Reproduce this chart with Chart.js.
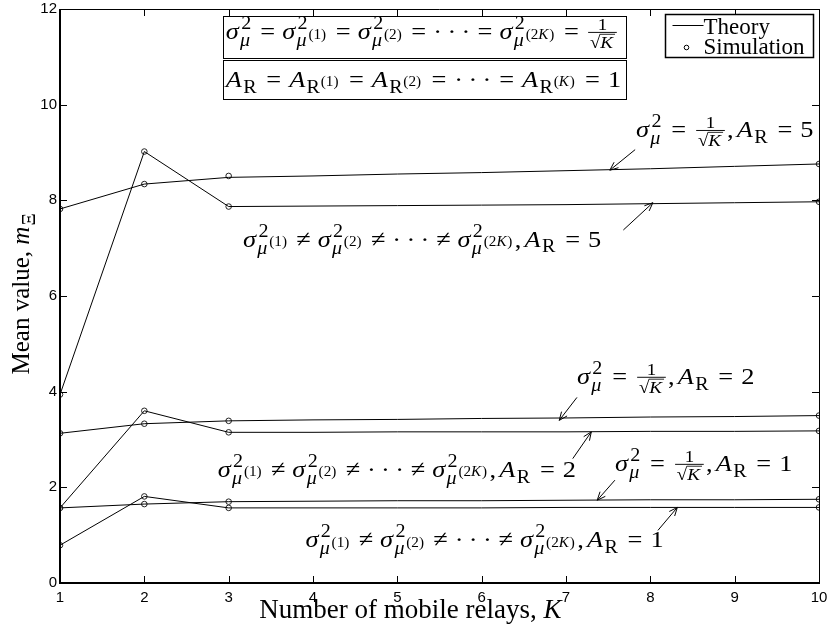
<!DOCTYPE html>
<html>
<head>
<meta charset="UTF-8">
<title>Mean value vs number of mobile relays</title>
<script src="https://cdn.jsdelivr.net/npm/chart.js"></script>
<style>
  html, body { margin: 0; padding: 0; background: #fff; }
  #wrap { width: 827px; height: 633px; }
</style>
</head>
<body>
<div id="wrap"><canvas id="chart" width="827" height="633"></canvas></div>
<script>
// K values: theory evaluated at every K, simulation only at a few
const kTheory = [1, 2, 3, 4, 5, 6, 7, 8, 9, 10];
const kSim = [1, 2, 3, 10];

// theory curves (equal / unequal variances, A_R = 5, 2, 1)
const theoryEqA5   = [7.82, 8.34, 8.48, 8.51, 8.55, 8.58, 8.62, 8.66, 8.71, 8.76];
const theoryNeqA5  = [3.94, 9.02, 7.87, 7.88, 7.89, 7.90, 7.91, 7.93, 7.95, 7.97];
const theoryEqA2   = [3.13, 3.33, 3.39, 3.41, 3.42, 3.44, 3.45, 3.47, 3.48, 3.50];
const theoryNeqA2  = [1.57, 3.60, 3.15, 3.15, 3.16, 3.16, 3.16, 3.17, 3.17, 3.18];
const theoryEqA1   = [1.57, 1.65, 1.70, 1.71, 1.72, 1.72, 1.73, 1.74, 1.74, 1.75];
const theoryNeqA1  = [0.79, 1.81, 1.57, 1.57, 1.57, 1.57, 1.58, 1.58, 1.58, 1.58];

// simulation points
const simEqA5  = [7.82, 8.34, 8.51, 8.76];
const simNeqA5 = [3.94, 9.02, 7.87, 7.97];
const simEqA2  = [3.13, 3.33, 3.39, 3.50];
const simNeqA2 = [1.57, 3.60, 3.15, 3.18];
const simEqA1  = [1.57, 1.65, 1.70, 1.75];
const simNeqA1 = [0.79, 1.81, 1.57, 1.58];

const xTicks = [1, 2, 3, 4, 5, 6, 7, 8, 9, 10];
const yTicks = [0, 2, 4, 6, 8, 10, 12];

// --- tiny math text layout: text, sup/sub, fractions, square roots ---
const I = s => ({ k: 't', s, it: true });
const R = s => ({ k: 't', s, it: false });
const SP = w => ({ k: 'sp', w });
const SS = (base, sup, sub) => ({ k: 'ss', base, sup, sub });
const FR = (num, den) => ({ k: 'fr', num, den });
const SQ = body => ({ k: 'sq', body });

const SERIF = '"Liberation Serif", "DejaVu Serif", serif';
function fnt(size, it) { return (it ? 'italic ' : '') + size + 'px ' + SERIF; }

function lay(ctx, nodes, x, y, size, draw) {
  let w = 0;
  for (const n of nodes) {
    if (n.k === 't') {
      ctx.font = fnt(size, n.it);
      if (draw) ctx.fillText(n.s, x + w, y);
      w += ctx.measureText(n.s).width + (n.it ? size * 0.05 : 0);
    } else if (n.k === 'sp') {
      w += n.w * size;
    } else if (n.k === 'ss') {
      w += lay(ctx, n.base, x + w, y, size, draw);
      const s2 = size * (size > 18 ? 0.76 : 0.7);
      let sw = 0;
      if (n.sup) sw = Math.max(sw, lay(ctx, n.sup, x + w + size * 0.04, y - size * 0.42, s2, draw));
      if (n.sub) sw = Math.max(sw, lay(ctx, n.sub, x + w, y + size * (n.sup ? 0.3 : 0.24), s2, draw));
      w += sw + size * 0.07;
    } else if (n.k === 'fr') {
      const s2 = size * 0.72;
      const nw = lay(ctx, n.num, 0, 0, s2, false);
      const dw = lay(ctx, n.den, 0, 0, s2, false);
      const fw = Math.max(nw, dw) + size * 0.3;
      const bar = y - size * 0.28;
      if (draw) {
        lay(ctx, n.num, x + w + (fw - nw) / 2, bar - size * 0.1, s2, true);
        lay(ctx, n.den, x + w + (fw - dw) / 2, bar + size * 0.64, s2, true);
        ctx.beginPath();
        ctx.lineWidth = 0.9;
        ctx.moveTo(x + w + 2, bar); ctx.lineTo(x + w + fw - 2, bar);
        ctx.stroke();
      }
      w += fw;
    } else if (n.k === 'sq') {
      ctx.font = fnt(size, false);
      const rw = ctx.measureText('\u221A').width;
      if (draw) ctx.fillText('\u221A', x + w, y);
      const bw = lay(ctx, n.body, x + w + rw, y, size, draw);
      if (draw) {
        ctx.beginPath();
        ctx.lineWidth = 0.8;
        ctx.moveTo(x + w + rw - 0.5, y - size * 0.78);
        ctx.lineTo(x + w + rw + bw + 1, y - size * 0.78);
        ctx.stroke();
      }
      w += rw + bw + 1;
    }
  }
  return w;
}

// formulas are set a little wider than the serif face, like TeX output
const FS = 24, SX = 1.1;
function drawMath(ctx, nodes, x, y) {
  ctx.save();
  ctx.translate(x, y);
  ctx.scale(SX, 1);
  lay(ctx, nodes, 0, 0, FS, true);
  ctx.restore();
}

const rel = (op, gap) => [SP(gap), R(op), SP(gap)];
const EQ = rel('=', 0.3);
const EQN = rel('=', 0.27);
const NE = rel('\u2260', 0.26);
const DOTS = R('\u00B7\u2009\u00B7\u2009\u00B7');
const sig = idx => SS([I('\u03C3')], [R('2')], idx ? [SS([I('\u03BC')], idx, null)] : [I('\u03BC')]);
const aR = idx => SS([I('A')], null, idx ? [SS([R('R')], idx, null)] : [R('R')]);
const invSqrtK = FR([R('1')], [SQ([I('K')])]);

const eqLabel = a => [sig(null), ...EQ, invSqrtK, R(','), SP(0.12), aR(null), ...EQ, R(a)];
const neqLabel = a => [sig([R('(1)')]), ...NE, sig([R('(2)')]), ...NE, DOTS, ...NE,
  sig([R('(2'), I('K'), R(')')]), R(','), SP(0.12), aR(null), ...EQ, R(a)];

const boxLine1 = [sig(null), ...EQN, sig([R('(1)')]), ...EQN, sig([R('(2)')]), ...EQN, DOTS, ...EQN,
  sig([R('(2'), I('K'), R(')')]), ...EQN, invSqrtK];
const boxLine2 = [aR(null), ...EQ, aR([R('(1)')]), ...EQ, aR([R('(2)')]), ...EQ, DOTS, ...EQ,
  aR([R('('), I('K'), R(')')]), ...EQ, R('1')];

// labels with arrows, in data units: text start, arrow tail, arrow tip
const notes = [
  { label: eqLabel('5'),  at: [7.83, 9.32], tail: [7.82, 9.06], tip: [7.52, 8.63] },
  { label: neqLabel('5'), at: [3.17, 7.03], tail: [7.68, 7.38], tip: [8.03, 7.95] },
  { label: eqLabel('2'),  at: [7.13, 4.16], tail: [7.13, 3.88], tip: [6.92, 3.40] },
  { label: neqLabel('2'), at: [2.87, 2.22], tail: [7.08, 2.60], tip: [7.30, 3.16] },
  { label: eqLabel('1'),  at: [7.58, 2.34], tail: [7.58, 2.15], tip: [7.37, 1.73] },
  { label: neqLabel('1'), at: [3.91, 0.75], tail: [8.09, 1.10], tip: [8.32, 1.58] }
];

const decor = {
  id: 'decor',
  afterDatasetsDraw(chart) {
    const { ctx, chartArea: a, scales: { x, y } } = chart;
    const px = v => x.getPixelForValue(v), py = v => y.getPixelForValue(v);
    ctx.save();
    ctx.strokeStyle = '#000';
    ctx.fillStyle = '#000';

    // inward tick marks on all four sides
    ctx.lineWidth = 1;
    ctx.beginPath();
    xTicks.forEach(t => {
      const X = Math.round(px(t)) + 0.5;
      ctx.moveTo(X, a.bottom); ctx.lineTo(X, a.bottom - 7);
      ctx.moveTo(X, a.top); ctx.lineTo(X, a.top + 7);
    });
    yTicks.forEach(t => {
      const Y = Math.round(py(t)) + 0.5;
      ctx.moveTo(a.left, Y); ctx.lineTo(a.left + 7, Y);
      ctx.moveTo(a.right, Y); ctx.lineTo(a.right - 7, Y);
    });
    ctx.stroke();

    // axes box: heavier left/bottom
    ctx.beginPath();
    ctx.lineWidth = 1;
    ctx.moveTo(a.left, a.top + 0.5); ctx.lineTo(a.right + 0.5, a.top + 0.5); ctx.lineTo(a.right + 0.5, a.bottom);
    ctx.stroke();
    ctx.beginPath();
    ctx.lineWidth = 2;
    ctx.moveTo(a.left, a.top); ctx.lineTo(a.left, a.bottom); ctx.lineTo(a.right + 1, a.bottom);
    ctx.stroke();

    // annotations with arrows
    ctx.textBaseline = 'alphabetic';
    notes.forEach(n => {
      drawMath(ctx, n.label, px(n.at[0]), py(n.at[1]));
      const x0 = px(n.tail[0]), y0 = py(n.tail[1]), x1 = px(n.tip[0]), y1 = py(n.tip[1]);
      const ang = Math.atan2(y1 - y0, x1 - x0);
      ctx.lineWidth = 1;
      ctx.beginPath();
      ctx.moveTo(x0, y0); ctx.lineTo(x1, y1);
      ctx.moveTo(x1, y1); ctx.lineTo(x1 - 9 * Math.cos(ang - 0.4), y1 - 9 * Math.sin(ang - 0.4));
      ctx.moveTo(x1, y1); ctx.lineTo(x1 - 9 * Math.cos(ang + 0.4), y1 - 9 * Math.sin(ang + 0.4));
      ctx.stroke();
    });

    // boxed condition lines at the top
    const bx0 = px(2.93), bx1 = px(7.71);
    ctx.lineWidth = 1;
    [[11.85, 10.98, boxLine1, 11.37], [10.93, 10.12, boxLine2, 10.36]].forEach(([t, b, line, base]) => {
      const Y0 = Math.round(py(t)) + 0.5, Y1 = Math.round(py(b)) + 0.5;
      ctx.fillStyle = '#fff';
      ctx.fillRect(bx0, Y0, bx1 - bx0, Y1 - Y0);
      ctx.strokeRect(Math.round(bx0) + 0.5, Y0, Math.round(bx1 - bx0), Y1 - Y0);
      ctx.fillStyle = '#000';
      drawMath(ctx, line, bx0 + 3, py(base));
    });

    // legend box
    const lx0 = Math.round(px(8.17)) + 0.5, lx1 = Math.round(px(9.93)) + 0.5;
    const ly0 = Math.round(py(11.9)) + 0.5, ly1 = Math.round(py(10.99)) + 0.5;
    ctx.fillStyle = '#fff';
    ctx.fillRect(lx0, ly0, lx1 - lx0, ly1 - ly0);
    ctx.lineWidth = 1.5;
    ctx.strokeRect(lx0, ly0, lx1 - lx0, ly1 - ly0);
    ctx.fillStyle = '#000';
    ctx.lineWidth = 1;
    ctx.beginPath();
    ctx.moveTo(lx0 + 7, ly0 + 11); ctx.lineTo(lx0 + 38, ly0 + 11);
    ctx.stroke();
    ctx.beginPath();
    ctx.arc(lx0 + 21, ly0 + 33, 2.3, 0, Math.PI * 2);
    ctx.stroke();
    ctx.font = fnt(23, false);
    ctx.fillText('Theory', lx0 + 38, ly0 + 19);
    ctx.fillText('Simulation', lx0 + 38, ly0 + 39);

    // axis titles
    const xt = [R('Number of mobile relays, '), I('K')];
    const xw = lay(ctx, xt, 0, 0, 27, false);
    lay(ctx, xt, 411 - xw / 2, 618, 27, true);

    const yt = [R('Mean value, '), SS([I('m')], null, [R('\u039E')])];
    const yw = lay(ctx, yt, 0, 0, 25, false);
    ctx.translate(29, 293);
    ctx.rotate(-Math.PI / 2);
    lay(ctx, yt, -yw / 2, 0, 25, true);
    ctx.restore();
  }
};

const pts = (xs, ys) => xs.map((k, i) => ({ x: k, y: ys[i] }));
const theoryDs = ys => ({
  data: pts(kTheory, ys), showLine: true, borderColor: '#000', borderWidth: 1,
  pointRadius: 0, tension: 0
});
const simDs = ys => ({
  data: pts(kSim, ys), showLine: false, borderColor: '#222', backgroundColor: '#fff',
  pointRadius: 2.8, pointBorderWidth: 1, pointStyle: 'circle'
});

new Chart(document.getElementById('chart'), {
  type: 'scatter',
  data: {
    datasets: [
      theoryDs(theoryEqA5), theoryDs(theoryNeqA5), theoryDs(theoryEqA2),
      theoryDs(theoryNeqA2), theoryDs(theoryEqA1), theoryDs(theoryNeqA1),
      simDs(simEqA5), simDs(simNeqA5), simDs(simEqA2),
      simDs(simNeqA2), simDs(simEqA1), simDs(simNeqA1)
    ]
  },
  options: {
    responsive: false,
    animation: false,
    devicePixelRatio: 1,
    layout: { padding: { top: 9, right: 8, left: 0, bottom: 0 } },
    plugins: { legend: { display: false }, tooltip: { enabled: false } },
    scales: {
      x: {
        type: 'linear', min: 1, max: 10,
        afterBuildTicks: s => { s.ticks = xTicks.map(v => ({ value: v })); },
        afterFit: s => { s.height = 50; s.paddingLeft = 0; s.paddingRight = 0; },
        grid: { display: false, drawTicks: false },
        border: { display: false },
        ticks: { color: '#000', padding: 6, font: { family: '"Liberation Sans", Arial, sans-serif', size: 15 } }
      },
      y: {
        type: 'linear', min: 0, max: 12,
        afterBuildTicks: s => { s.ticks = yTicks.map(v => ({ value: v })); },
        afterFit: s => { s.width = 60; s.paddingTop = 0; s.paddingBottom = 0; },
        grid: { display: false, drawTicks: false },
        border: { display: false },
        ticks: { color: '#000', padding: 3, font: { family: '"Liberation Sans", Arial, sans-serif', size: 15 } }
      }
    }
  },
  plugins: [decor]
});
</script>
</body>
</html>
